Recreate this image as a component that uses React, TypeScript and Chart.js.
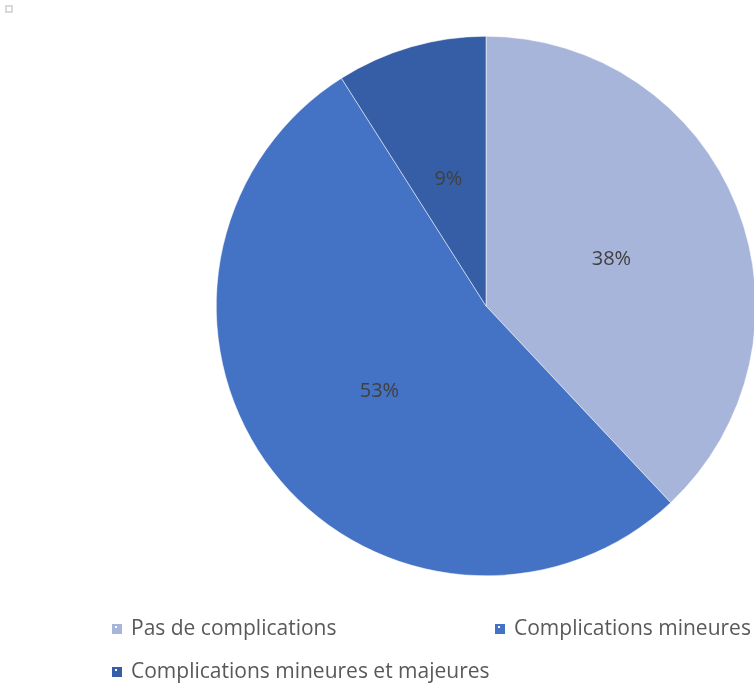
import React, { useEffect, useRef } from "react";
import { Chart, registerables } from "chart.js";

Chart.register(...registerables);

const categories = ["Pas de complications", "Complications mineures", "Complications mineures et majeures"];
const values = [38, 53, 9];
const labelsText = ["38%", "53%", "9%"];
const colors = ["#A8B5DB", "#4472C4", "#365EA6"];

const labelPlugin = {
  id: "pieLabels",
  afterDatasetsDraw(chart: any) {
    const ctx = chart.ctx;
    const meta = chart.getDatasetMeta(0);
    ctx.save();
    ctx.font = "20px 'Open Sans', sans-serif";
    ctx.fillStyle = "#404040";
    ctx.textAlign = "center";
    ctx.textBaseline = "middle";
    meta.data.forEach((arc: any, i: number) => {
      const mid = (arc.startAngle + arc.endAngle) / 2;
      const r = arc.outerRadius * 0.5;
      ctx.fillText(labelsText[i], arc.x + Math.cos(mid) * r, arc.y + Math.sin(mid) * r + 3);
    });
    ctx.restore();
  },
};

const legendPos = [
  { x: 112, y: 629 },
  { x: 495, y: 629 },
  { x: 112, y: 672 },
];

const legendPlugin = {
  id: "customLegend",
  afterDraw(chart: any) {
    const ctx = chart.ctx;
    ctx.save();
    ctx.font = "21px 'Open Sans', sans-serif";
    ctx.textBaseline = "middle";
    ctx.textAlign = "left";
    categories.forEach((c, i) => {
      const p = legendPos[i];
      ctx.fillStyle = colors[i];
      ctx.fillRect(p.x, p.y - 5, 10, 10);
      ctx.fillStyle = "#ffffff";
      ctx.fillRect(p.x + 3, p.y - 3, 2, 2);
      ctx.fillStyle = "#595959";
      ctx.fillText(c, p.x + 19, p.y);
    });
    ctx.restore();
  },
};

export default function App() {
  const ref = useRef<HTMLCanvasElement>(null);
  useEffect(() => {
    document.body.style.margin = "0";
    const chart = new Chart(ref.current!, {
      type: "pie",
      data: {
        labels: categories,
        datasets: [
          {
            data: values,
            backgroundColor: colors,
            borderColor: "#ffffff",
            borderWidth: 0.5,
          },
        ],
      },
      options: {
        animation: false,
        responsive: false,
        layout: { padding: { left: 216, right: 44, top: 36, bottom: 112 } },
        plugins: { legend: { display: false }, tooltip: { enabled: false } },
      },
      plugins: [labelPlugin, legendPlugin],
    });
    return () => chart.destroy();
  }, []);
  return (
    <div style={{ position: "relative", width: 754, height: 688, overflow: "hidden", background: "#fff" }}>
      <canvas ref={ref} width={800} height={688} style={{ position: "absolute", left: 0, top: 0 }} />
      <div
        style={{
          position: "absolute",
          left: 5,
          top: 5,
          width: 4,
          height: 4,
          border: "2px solid #d9d9d9",
        }}
      />
    </div>
  );
}
